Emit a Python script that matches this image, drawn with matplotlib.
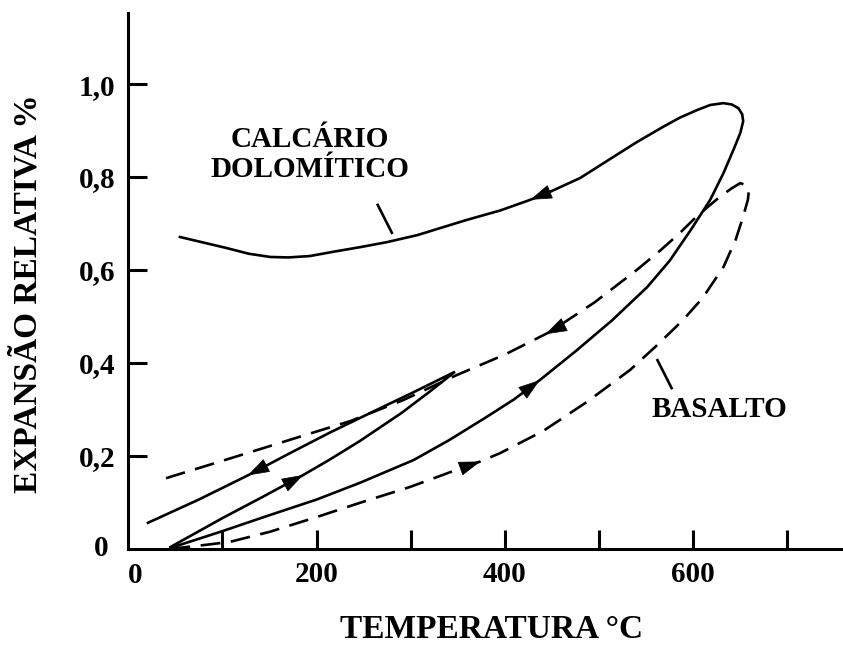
import numpy as np
import matplotlib
matplotlib.use('Agg')
import matplotlib.pyplot as plt

plt.rcParams['font.family'] = 'Liberation Serif'
plt.rcParams['font.weight'] = 'bold'

# Calcario dolomitico, heating to ~650 C then cooling (solid loop)
calc_heat_t = [45, 100, 145, 200, 246, 303, 340, 380, 410, 437, 475, 514, 551, 575, 598, 618,
               632, 643, 650, 653, 652]
calc_heat_e = [0.002, 0.038, 0.069, 0.106, 0.142, 0.191, 0.233, 0.283, 0.322, 0.363, 0.425, 0.492,
               0.563, 0.620, 0.688, 0.751, 0.808, 0.860, 0.895, 0.920, 0.935]
calc_cool_t = [648, 641, 632, 618, 604, 586, 568, 540, 515, 480, 450, 427, 395, 360, 307, 275,
               246, 220, 193, 170, 151, 128, 105, 80, 55]
calc_cool_e = [0.948, 0.956, 0.959, 0.955, 0.944, 0.928, 0.908, 0.875, 0.843, 0.798, 0.770, 0.751,
               0.728, 0.708, 0.675, 0.660, 0.649, 0.640, 0.630, 0.627, 0.628, 0.635, 0.647, 0.659,
               0.671]

# Calcario, heating to ~350 C only (small solid loop)
small_heat_t = [45, 100, 143, 186, 214, 246, 290, 320, 347]
small_heat_e = [0.004, 0.066, 0.112, 0.159, 0.192, 0.232, 0.292, 0.338, 0.381]
small_cool_t = [347, 300, 268, 214, 170, 127, 75, 21]
small_cool_e = [0.381, 0.334, 0.303, 0.250, 0.204, 0.158, 0.106, 0.056]

# Basalto (dashed loop)
bas_heat_t = [45, 84, 108, 151, 201, 246, 299, 342, 374, 395, 441, 487, 533, 562, 589, 610,
              632, 645, 653, 658, 659, 656]
bas_heat_e = [0.0, 0.009, 0.015, 0.037, 0.069, 0.099, 0.133, 0.165, 0.188, 0.206, 0.254, 0.316,
              0.385, 0.439, 0.492, 0.540, 0.606, 0.665, 0.715, 0.751, 0.770, 0.782]
bas_cool_t = [650, 641, 628, 615, 600, 586, 565, 540, 495, 448, 400, 349, 292, 236, 185, 136,
              85, 37]
bas_cool_e = [0.787, 0.776, 0.757, 0.735, 0.708, 0.680, 0.642, 0.600, 0.530, 0.467, 0.418, 0.374,
              0.320, 0.275, 0.243, 0.212, 0.180, 0.150]

# where the direction arrows sit (temperature along each branch)
arrow_calc_heat = 437
arrow_calc_cool = 427
arrow_small_heat = 186
arrow_small_cool = 127
arrow_bas_heat = 374
arrow_bas_cool = 443

# leader lines for the labels
lead_calc_t = [265, 280]
lead_calc_e = [0.740, 0.680]
lead_bas_t = [562, 577]
lead_bas_e = [0.406, 0.346]

x_ticks = [100, 200, 300, 400, 500, 600, 700]
x_labels = ['', '200', '', '400', '', '600', '']
y_ticks = [0.2, 0.4, 0.6, 0.8, 1.0]
y_labels = ['0,2', '0,4', '0,6', '0,8', '1,0']


def add_arrow(ax, t, e, t_at):
    # tip of a filled arrowhead on the branch where it first crosses t_at
    t = np.asarray(t, float)
    e = np.asarray(e, float)
    for i in range(len(t) - 1):
        lo, hi = sorted((t[i], t[i + 1]))
        if lo <= t_at <= hi and t[i] != t[i + 1]:
            f = (t_at - t[i]) / (t[i + 1] - t[i])
            y = e[i] + f * (e[i + 1] - e[i])
            dx = (t[i + 1] - t[i]) * 0.05
            dy = (e[i + 1] - e[i]) * 0.05
            ax.annotate('', xy=(t_at, y), xytext=(t_at - dx, y - dy),
                        arrowprops=dict(arrowstyle='-|>,head_length=0.9,head_width=0.3',
                                        color='black', lw=0.5, mutation_scale=16,
                                        shrinkA=0, shrinkB=0))
            return


fig = plt.figure(figsize=(8.43, 6.48), dpi=100)
ax = fig.add_axes([0.152, 0.153, 0.848, 0.827])

lw = 1.9
dash = (0, (7.5, 4))

ax.plot(calc_heat_t + calc_cool_t, calc_heat_e + calc_cool_e, color='black', lw=lw,
        solid_joinstyle='round')
ax.plot(small_heat_t + small_cool_t, small_heat_e + small_cool_e, color='black', lw=lw,
        solid_joinstyle='miter')
ax.plot(bas_heat_t + bas_cool_t, bas_heat_e + bas_cool_e, color='black', lw=lw, linestyle=dash)

add_arrow(ax, calc_heat_t, calc_heat_e, arrow_calc_heat)
add_arrow(ax, calc_cool_t, calc_cool_e, arrow_calc_cool)
add_arrow(ax, small_heat_t, small_heat_e, arrow_small_heat)
add_arrow(ax, small_cool_t, small_cool_e, arrow_small_cool)
add_arrow(ax, bas_heat_t, bas_heat_e, arrow_bas_heat)
add_arrow(ax, bas_cool_t, bas_cool_e, arrow_bas_cool)

ax.plot(lead_calc_t, lead_calc_e, color='black', lw=lw)
ax.plot(lead_bas_t, lead_bas_e, color='black', lw=lw)

ax.text(193, 0.849, 'CALCÁRIO\nDOLOMÍTICO', ha='center', va='center',
        fontsize=21, fontweight='bold', linespacing=1.15)
ax.text(628, 0.299, 'BASALTO', ha='center', va='center', fontsize=21, fontweight='bold')

ax.set_xlim(0, 759)
ax.set_ylim(0, 1.153)

for side in ['top', 'right']:
    ax.spines[side].set_visible(False)
for side in ['left', 'bottom']:
    ax.spines[side].set_linewidth(2.2)

ax.set_xticks(x_ticks)
ax.set_xticklabels(x_labels)
ax.set_yticks(y_ticks)
ax.set_yticklabels(y_labels)
ax.tick_params(direction='in', length=14, width=2.2, labelsize=21)
ax.tick_params(axis='x', pad=9)
ax.tick_params(axis='y', pad=9)

# zeros at the origin
ax.text(-0.028, 0.0, '0', transform=ax.get_yaxis_transform(), ha='right', va='center',
        fontsize=21, fontweight='bold')
ax.text(7, -0.025, '0', transform=ax.get_xaxis_transform(), ha='center', va='top',
        fontsize=21, fontweight='bold')

ax.set_xlabel('TEMPERATURA °C', fontsize=24, fontweight='bold', va='bottom')
ax.xaxis.set_label_coords(492 / 843, 3 / 648, transform=fig.transFigure)
ax.set_ylabel('EXPANSÃO RELATIVA %', fontsize=24, fontweight='bold')
ax.yaxis.set_label_coords(-0.118, 0.476)

fig.savefig('out.png', dpi=100)
